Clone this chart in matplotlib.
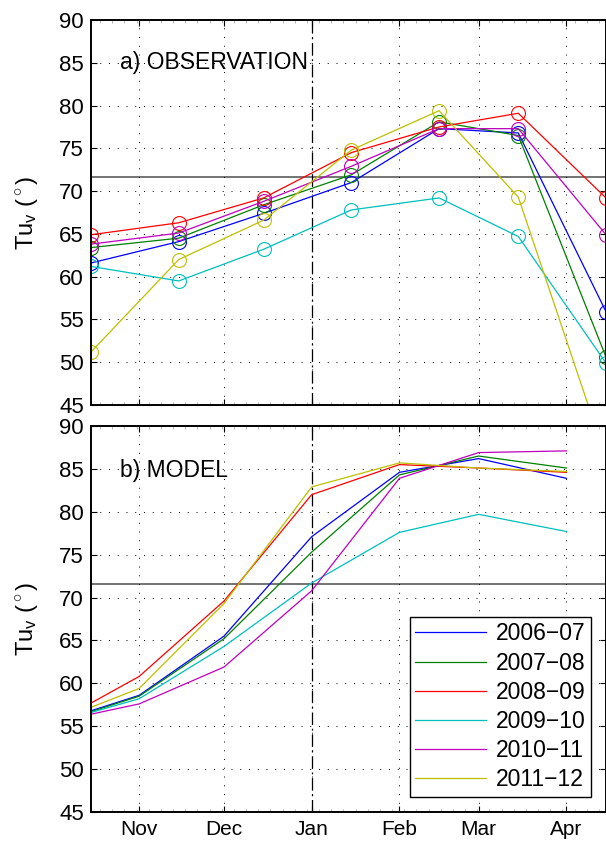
import numpy as np
import matplotlib
matplotlib.use("Agg")
import matplotlib.pyplot as plt
from matplotlib.ticker import FixedLocator, MultipleLocator

plt.rcParams['font.family'] = ['Liberation Sans', 'DejaVu Sans']
plt.rcParams['mathtext.fontset'] = 'custom'
plt.rcParams['mathtext.rm'] = 'Liberation Sans'
plt.rcParams['mathtext.it'] = 'Liberation Sans:italic'

# season labels and colours (MATLAB style)
seasons = ['2006\u221207', '2007\u221208', '2008\u221209', '2009\u221210', '2010\u221211', '2011\u221212']
colors = ['#0000ff', '#008000', '#ff0000', '#00bfbf', '#bf00bf', '#bfbf00']

# dates (a reference season, day counts from 1 Oct)
ref = np.datetime64('2006-10-01')
obs_dates = np.array(['2006-10-15', '2006-11-15', '2006-12-15', '2007-01-15',
                      '2007-02-15', '2007-03-15', '2007-04-15'], dtype='datetime64[D]')
mod_dates = np.array(['2006-10-15', '2006-11-01', '2006-12-01', '2007-01-01',
                      '2007-02-01', '2007-03-01', '2007-04-01'], dtype='datetime64[D]')
month_dates = np.array(['2006-11-01', '2006-12-01', '2007-01-01', '2007-02-01',
                        '2007-03-01', '2007-04-01'], dtype='datetime64[D]')
month_labels = ['Nov', 'Dec', 'Jan', 'Feb', 'Mar', 'Apr']
jan1 = np.datetime64('2007-01-01')
threshold = 71.6

# a) observations, one row per season
obs_2006 = [61.6, 64.1, 67.4, 71.0, 77.3, 76.8, 55.9]
obs_2007 = [63.4, 64.5, 68.4, 71.9, 78.1, 76.5, 50.6]
obs_2008 = [64.9, 66.3, 69.2, 74.5, 77.5, 79.1, 69.2]
obs_2009 = [61.2, 59.5, 63.2, 67.8, 69.2, 64.7, 49.9]
obs_2010 = [63.8, 65.1, 68.8, 72.9, 77.3, 77.3, 64.9]
obs_2011 = [51.2, 62.0, 66.6, 74.8, 79.4, 69.3, 38.8]

# b) model
mod_2006 = [56.8, 58.6, 65.5, 77.1, 84.6, 86.2, 83.9]
mod_2007 = [56.7, 58.5, 65.2, 75.3, 84.3, 86.5, 85.1]
mod_2008 = [57.7, 60.8, 69.6, 82.0, 85.5, 85.1, 84.6]
mod_2009 = [56.6, 58.2, 64.3, 71.7, 77.6, 79.7, 77.7]
mod_2010 = [56.4, 57.6, 61.9, 70.8, 83.9, 86.9, 87.1]
mod_2011 = [57.2, 59.4, 69.3, 82.9, 85.7, 85.1, 84.7]

obs = [obs_2006, obs_2007, obs_2008, obs_2009, obs_2010, obs_2011]
mod = [mod_2006, mod_2007, mod_2008, mod_2009, mod_2010, mod_2011]

obs_x = (obs_dates - ref).astype(int)
mod_x = (mod_dates - ref).astype(int)
month_x = (month_dates - ref).astype(int)
jan_x = int((jan1 - ref).astype(int))

fig = plt.figure(figsize=(6.06, 8.42), dpi=100)
ax1 = fig.add_axes([91 / 606, (842 - 405) / 842, 515 / 606, 385 / 842])
ax2 = fig.add_axes([91 / 606, (842 - 812) / 842, 515 / 606, 386 / 842])

ylab = 'Tu$_\\mathregular{v}$ ($^\\circ$)'

for ax in (ax1, ax2):
    ax.set_xlim(14, 196)
    ax.set_ylim(45, 90)
    ax.set_yticks(np.arange(45, 91, 5))
    ax.xaxis.set_major_locator(FixedLocator(month_x))
    ax.xaxis.set_minor_locator(MultipleLocator(4.3))
    ax.grid(True, which='major', color='black', linestyle=(0, (1, 8)), linewidth=0.7)
    ax.tick_params(which='major', direction='in', length=4, width=0.8,
                   top=True, right=True, labelsize=16, pad=5, colors='black')
    ax.tick_params(which='minor', direction='in', length=2, width=0.4,
                   top=True, right=False, color='0.5')
    for sp in ax.spines.values():
        sp.set_linewidth(1.4)
    ax.axhline(threshold, color='0.3', linewidth=1.1, zorder=1)
    ax.axvline(jan_x, color='black', linewidth=0.9, linestyle=(0, (10, 3, 1.5, 3)), zorder=1)
    ax.set_ylabel(ylab, fontsize=17)
    ax.yaxis.set_label_coords(-0.1, 0.5)

ax1.tick_params(labelbottom=False)
ax2.set_xticklabels(month_labels)
ax2.tick_params(axis='x', pad=6, labelsize=15)

for vals, c in zip(obs, colors):
    ax1.plot(obs_x, vals, color=c, linewidth=0.9, marker='o', markersize=10,
             markerfacecolor='none', markeredgecolor=c, markeredgewidth=0.8)

for vals, c, lab in zip(mod, colors, seasons):
    ax2.plot(mod_x, vals, color=c, linewidth=0.9, label=lab)

ax1.text(24.2, 85, 'a) OBSERVATION', fontsize=16.5, va='center', ha='left')
ax2.text(24.2, 84.8, 'b) MODEL', fontsize=16.5, va='center', ha='left')

leg = ax2.legend(loc='lower right', fontsize=16.5, handlelength=3.1,
                 handletextpad=0.4, labelspacing=0.27, borderpad=0.25,
                 borderaxespad=0.65, fancybox=False, framealpha=1)
leg.get_frame().set_edgecolor('black')
leg.get_frame().set_linewidth(1.0)

fig.savefig('out.png', dpi=100)
